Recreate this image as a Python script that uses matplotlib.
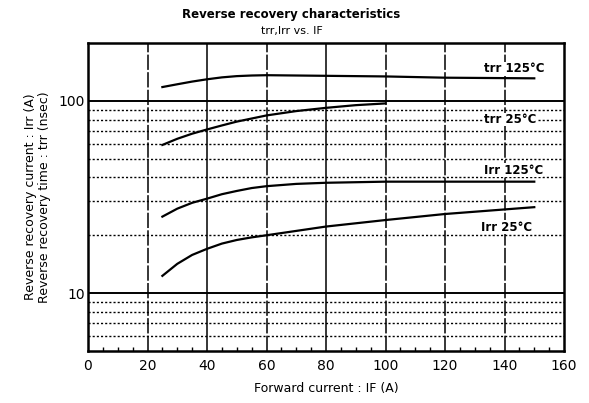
import matplotlib.pyplot as plt
import numpy as np

# curve data
trr125_if = [25, 30, 35, 40, 45, 50, 55, 60, 80, 100, 120, 150]
trr125_val = [118, 122, 126, 129.5, 132.5, 134.5, 135.5, 136, 135, 134, 132, 131]

trr25_if = [25, 30, 35, 40, 45, 50, 60, 70, 80, 90, 100]
trr25_val = [59, 63.5, 67.5, 71, 74.5, 78, 84, 88.5, 92, 95, 97]

irr125_if = [25, 30, 35, 40, 45, 50, 55, 60, 70, 80, 100, 120, 150]
irr125_val = [25, 27.5, 29.5, 31, 32.7, 34, 35.2, 36, 37, 37.5, 38, 38, 38]

irr25_if = [25, 30, 35, 40, 45, 50, 55, 60, 80, 100, 120, 150]
irr25_val = [12.3, 14.2, 15.8, 17, 18.1, 18.9, 19.5, 20, 22.2, 24, 25.8, 28]

curve_labels = ["trr 125°C", "trr 25°C", "Irr 125°C", "Irr 25°C"]
label_x = [133, 133, 133, 132]
label_y = [147, 80, 43.5, 22]

x_ticks = [0, 20, 40, 60, 80, 100, 120, 140, 160]


def main():
    fig = plt.figure(figsize=(5.89, 4.03), dpi=100)
    ax = fig.add_axes([0.1494, 0.129, 0.8082, 0.7643])

    ax.set_yscale("log")
    ax.set_xlim(0, 160)
    ax.set_ylim(5, 200)

    # grid: solid decades, dotted minors (none above 100)
    for v in [10, 100]:
        ax.axhline(v, color="black", lw=1.4, zorder=1)
    for v in [6, 7, 8, 9, 20, 30, 40, 50, 60, 70, 80, 90]:
        ax.axhline(v, color="black", lw=1.0, ls=(0, (1.5, 1.5)), zorder=1)
    for xv in [20, 40, 60, 80, 100, 120, 140]:
        if xv in (40, 80):
            ax.axvline(xv, color="black", lw=1.1, zorder=1)
        else:
            ax.axvline(xv, color="black", lw=1.1, ls=(0, (10, 1.5)), zorder=1)

    for xs, ys in [(trr125_if, trr125_val), (trr25_if, trr25_val),
                   (irr125_if, irr125_val), (irr25_if, irr25_val)]:
        ax.plot(xs, ys, color="black", lw=1.6, zorder=3, solid_joinstyle="round")

    for lab, lx, ly in zip(curve_labels, label_x, label_y):
        ax.text(lx, ly, lab, fontsize=8.5, va="center", ha="left",
                fontweight="bold", zorder=4,
                bbox=dict(facecolor="white", edgecolor="none", pad=0.3))

    ax.set_xticks(x_ticks)
    ax.set_xticks(np.arange(0, 161, 5), minor=True)
    ax.set_yticks([10, 100])
    ax.set_yticklabels(["10", "100"])
    ax.yaxis.set_minor_locator(plt.NullLocator())
    ax.tick_params(axis="x", which="major", length=0, labelsize=10, pad=6)
    ax.tick_params(axis="x", which="minor", direction="in", length=3, width=1, top=False)
    ax.tick_params(axis="y", which="major", length=0, labelsize=10, pad=2)

    for sp in ax.spines.values():
        sp.set_linewidth(1.8)

    ax.set_xlabel("Forward current : IF (A)", fontsize=9, labelpad=6)
    ax.set_ylabel("Reverse recovery current : Irr (A)\nReverse recovery time : trr (nsec)",
                  fontsize=9, labelpad=6, linespacing=1.1)

    fig.text(0.495, 0.963, "Reverse recovery characteristics", ha="center",
             va="center", fontsize=8.5, fontweight="bold")
    fig.text(0.495, 0.922, "trr,Irr vs. IF", ha="center", va="center", fontsize=8)

    fig.savefig("out.png", dpi=100)
    plt.close(fig)


if __name__ == "__main__":
    main()
